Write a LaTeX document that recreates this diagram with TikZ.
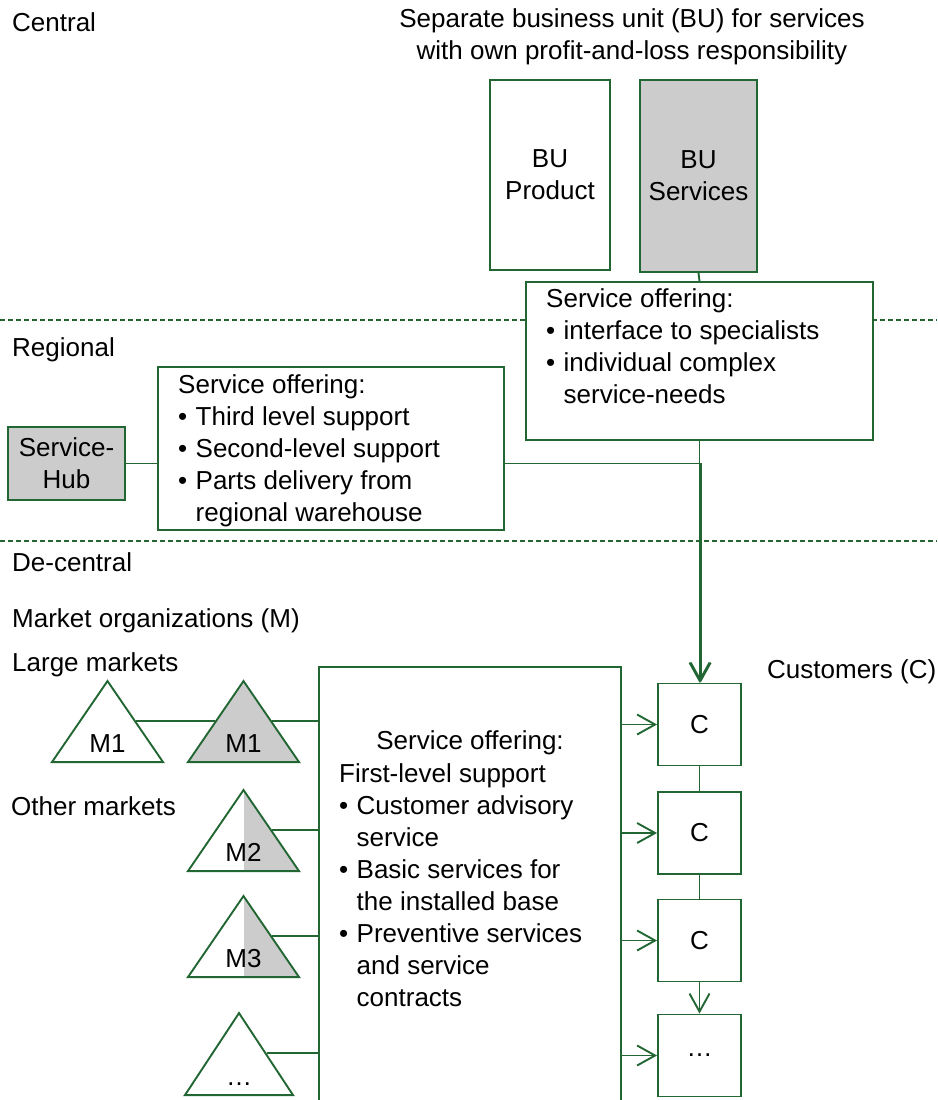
\documentclass[tikz,border=0pt]{standalone}
\usepackage{fontspec}
\setmainfont{Liberation Sans}
\usetikzlibrary{calc, arrows.meta, shapes.geometric}

\definecolor{darkgreen}{RGB}{34,102,51}
\definecolor{boxgray}{RGB}{204,204,204}

\newcommand{\bul}{\makebox[17.5pt][l]{\textbullet}}
\newcommand{\hang}{\hspace*{17.5pt}}

\begin{document}
\begin{tikzpicture}[x = 1pt, y = -1pt,
    every node/.style = {font = \fontsize{26}{32}\selectfont, inner sep = 0pt},
    box/.style = {draw = darkgreen, line width = 1.9pt, fill = white, align = center},
    graybox/.style = {box, fill = boxgray},
    tri/.style = {isosceles triangle, isosceles triangle stretches, shape border rotate = 90,
        minimum width = 111pt, minimum height = 81pt, draw = darkgreen, line width = 1.9pt,
        fill = white, anchor = south},
    halfgray/.style = {path picture = {\fill[boxgray] (path picture bounding box.south)
        rectangle (path picture bounding box.north east);}},
    link/.style = {draw = darkgreen, line width = 1.9pt},
    arrow/.style = {link, -{Straight Barb[length = 18pt, width = 20pt]}},
    level/.style = {draw = darkgreen, line width = 1.3pt, dash pattern = on 5pt off 3pt},
    lvltext/.style = {anchor = base west},
    listtext/.style = {anchor = north west, align = left}]

\useasboundingbox (0, 0) rectangle (937, 1100);
\clip (0, 0) rectangle (937, 1100);

% Levels
    \draw[level] (0, 320) -- (937, 320);
    \draw[level] (0, 541) -- (937, 541);

% Level texts
    \node[lvltext] (central) at (12, 31) {Central};
    \node[lvltext] (regional) at (12, 356) {Regional};
    \node[lvltext] (decentral) at (12, 571) {De-central};
    \node[lvltext] (marketorg) at (12, 627) {Market organizations (M)};
    \node[lvltext] (largemk) at (12, 671) {Large markets};
    \node[lvltext] (othermk) at (11, 815) {Other markets};
    \node[lvltext] (customers) at (767, 678) {Customers (C)};
    \node[align = center, anchor = north] (title) at (632, 8)
        {Separate business unit (BU) for services\\with own profit-and-loss responsibility};

% Nodes
    \node[box, minimum width = 120pt, minimum height = 190pt] (bup) at (550, 175) {BU\\Product};
    \node[graybox, minimum width = 117pt, minimum height = 192pt] (bus) at (698.5, 176) {BU\\Services};
    \node[box, minimum width = 347pt, minimum height = 158pt] (offer) at (699.5, 361) {};
    \node[box, minimum width = 346pt, minimum height = 163pt] (region) at (331, 448.5) {};
    \node[graybox, minimum width = 117pt, minimum height = 73pt] (hub) at (66.5, 463.5) {Service-\\Hub};
    \node[box, minimum width = 302pt, minimum height = 453pt] (first) at (470, 893.5) {};
    \node[box, minimum width = 83pt, minimum height = 82pt] (c1) at (699.5, 724.5) {C};
    \node[box, minimum width = 83pt, minimum height = 82pt] (c2) at (699.5, 833) {C};
    \node[box, minimum width = 83pt, minimum height = 82pt] (c3) at (699.5, 940.5) {C};
    \node[box, minimum width = 83pt, minimum height = 82pt] (c4) at (699.5, 1055.5) {\dots};

% Markets
    \node[tri] (m1a) at (107.5, 763) {};
    \node[tri, fill = boxgray] (m1b) at (243.5, 763) {};
    \node[tri, halfgray] (m2) at (243.5, 872) {};
    \node[tri, halfgray] (m3) at (243.5, 978) {};
    \node[tri, minimum width = 108pt, minimum height = 82pt] (m4) at (239, 1096) {};

    \node[anchor = base] (m1alabel) at ($(m1a.south) + (0, -11)$) {M1};
    \node[anchor = base] (m1blabel) at ($(m1b.south) + (0, -11)$) {M1};
    \node[anchor = base] (m2label) at ($(m2.south) + (0, -11)$) {M2};
    \node[anchor = base] (m3label) at ($(m3.south) + (0, -11)$) {M3};
    \node[anchor = base] (m4label) at ($(m4.south) + (0, -11)$) {\dots};

% Offerings
    \node[listtext] (offertext) at (546, 288)
        {Service offering:\\\bul interface to specialists\\\bul individual complex\\\hang service-needs};
    \node[listtext] (regiontext) at (178, 374)
        {Service offering:\\\bul Third level support\\\bul Second-level support\\\bul Parts delivery from\\\hang regional warehouse};
    \node[anchor = base] (firsthead) at (470, 749) {Service offering:};
    \node[listtext] (firsttext) at (339, 763)
        {First-level support\\\bul Customer advisory\\\hang service\\\bul Basic services for\\\hang the installed base\\\bul Preventive services\\\hang and service\\\hang contracts};

% Side points
    \coordinate (m1aside) at ($(m1a.apex)!0.5!(m1a.right corner)$);
    \coordinate (m1bleft) at ($(m1b.apex)!0.5!(m1b.left corner)$);
    \coordinate (m1bside) at ($(m1b.apex)!0.5!(m1b.right corner)$);
    \coordinate (m2side) at ($(m2.apex)!0.5!(m2.right corner)$);
    \coordinate (m3side) at ($(m3.apex)!0.5!(m3.right corner)$);
    \coordinate (m4side) at ($(m4.apex)!0.5!(m4.right corner)$);

% Directions
    \draw[link] (bus.south) -- (offer.north);
    \draw[link] (hub.east) -- (hub.east -| region.west);
    \draw[arrow] (offer.south) -- (c1.north);
    \draw[arrow] (hub.east -| region.east) -| ($(c1.north) + (1.2, 0)$);
    \draw[link] (m1aside) -- (m1bleft);
    \draw[link] (m1bside) -- (m1bside -| first.west);
    \draw[link] (m2side) -- (m2side -| first.west);
    \draw[link] (m3side) -- (m3side -| first.west);
    \draw[link] (m4side) -- (m4side -| first.west);
    \draw[arrow] (c1 -| first.east) -- (c1.west);
    \draw[arrow] (c2 -| first.east) -- (c2.west);
    \draw[arrow] (c3 -| first.east) -- (c3.west);
    \draw[arrow] (c4 -| first.east) -- (c4.west);
    \draw[link] (c1) -- (c2);
    \draw[link] (c2) -- (c3);
    \draw[arrow] (c3) -- (c4);

\end{tikzpicture}
\end{document}
